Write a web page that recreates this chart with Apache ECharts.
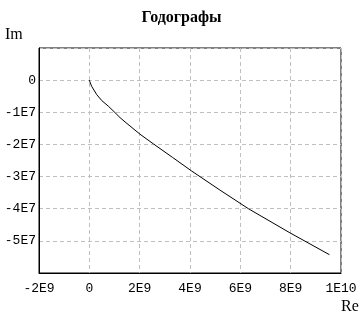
<!DOCTYPE html>
<html><head><meta charset="utf-8">
<script src="https://cdn.jsdelivr.net/npm/echarts@6/dist/echarts.min.js"></script>
<style>html,body{margin:0;padding:0;background:#fff}#c{width:363px;height:321px}</style>
</head><body><div id="c"></div>
<script>
var title = "Годографы";
var xName = "Re", yName = "Im";
var reValues = [0, 0.04e9, 0.095e9, 0.294e9, 0.493e9, 0.755e9, 1.02e9, 1.22e9, 1.42e9, 2.01e9, 2.54e9, 3.3e9, 4.07e9, 5.19e9, 5.99e9, 6.32e9, 7.97e9, 9.54e9];
var imValues = [0, -0.09e7, -0.196e7, -0.451e7, -0.635e7, -0.81e7, -1.01e7, -1.166e7, -1.30e7, -1.68e7, -1.98e7, -2.40e7, -2.83e7, -3.42e7, -3.83e7, -4.00e7, -4.75e7, -5.43e7];
var xTicks = {"-2000000000":"-2E9","0":"0","2000000000":"2E9","4000000000":"4E9","6000000000":"6E9","8000000000":"8E9","10000000000":"1E10"};
var yTicks = {"0":"0","-10000000":"-1E7","-20000000":"-2E7","-30000000":"-3E7","-40000000":"-4E7","-50000000":"-5E7"};

var pts = reValues.map(function(v,i){return [v, imValues[i]];});
var chart = echarts.init(document.getElementById('c'), null, {renderer:'canvas'});
var tickFont = {fontFamily:'Liberation Mono', fontSize:13, color:'#000'};
var splitStyle = {show:true, lineStyle:{color:'#c0c0c0', type:[4,3], width:1}};
chart.setOption({
  animation:false,
  title:{text:title, left:'center', top:5, textStyle:{fontFamily:'Liberation Serif', fontWeight:'bold', fontSize:16, color:'#000'}},
  grid:{left:39, top:48, width:302, height:225, show:true, borderColor:'#000', borderWidth:1, containLabel:false},
  graphic:[
    {type:'text', left:5, top:27, style:{text:yName, font:'16px "Liberation Serif"', fill:'#000'}},
    {type:'text', left:341, top:299, style:{text:xName, font:'16px "Liberation Serif"', fill:'#000'}}
  ],
  xAxis:{type:'value', min:-2e9, max:1e10, interval:2e9,
    axisLine:{show:true, onZero:false, lineStyle:{color:'#000'}}, axisTick:{show:false},
    axisLabel:Object.assign({margin:9, formatter:function(v){return xTicks[String(v)]!==undefined?xTicks[String(v)]:'';}}, tickFont),
    splitLine:splitStyle},
  yAxis:{type:'value', min:-6e7, max:1e7, interval:1e7,
    axisLine:{show:true, onZero:false, lineStyle:{color:'#000'}}, axisTick:{show:false},
    axisLabel:Object.assign({margin:3, showMinLabel:false, showMaxLabel:false, formatter:function(v){return yTicks[String(v)]!==undefined?yTicks[String(v)]:'';}}, tickFont),
    splitLine:splitStyle},
  series:[{type:'line', data:pts, showSymbol:false, smooth:false, lineStyle:{color:'#000', width:1}}]
});
</script></body></html>
